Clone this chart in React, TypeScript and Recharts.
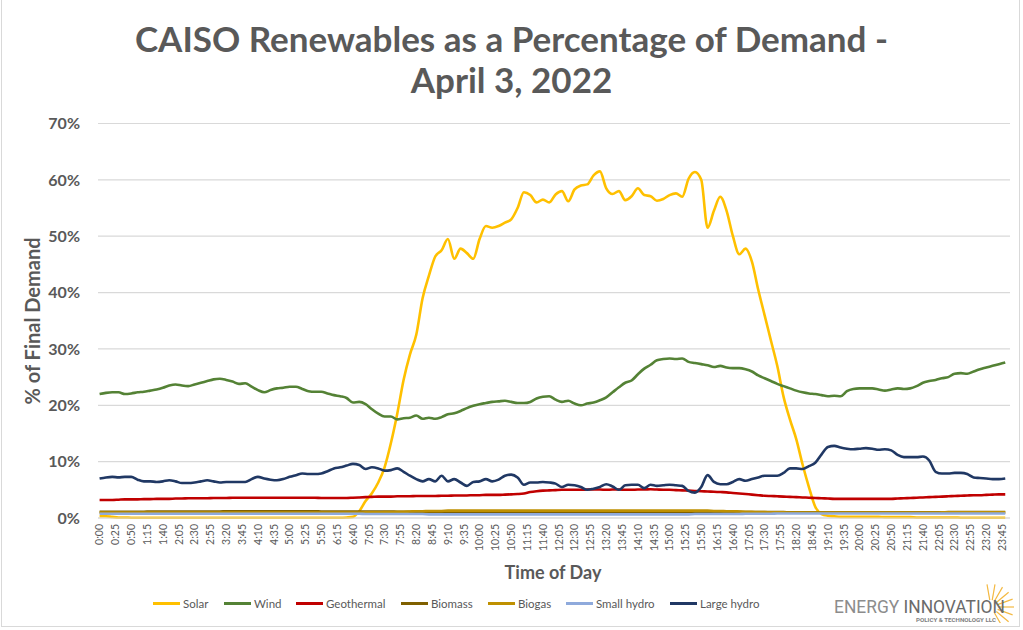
import { LineChart, Line, XAxis, YAxis, CartesianGrid } from 'recharts';

const FONT = "Lato, 'Open Sans', sans-serif";
const GREY = '#595959';

// 10-minute samples across the day (minutes after midnight)
const MINUTES = Array.from({ length: 144 }, (_, i) => i * 10);
// axis labels every 25 minutes like the source sheet
const X_TICKS = Array.from({ length: 58 }, (_, i) => i * 25);
const Y_TICKS = [0, 10, 20, 30, 40, 50, 60, 70];

const solar = [
  0.3, 0.3, 0.2, 0.1, 0.1, 0.05, 0.05, 0.05, 0.05, 0.05,
  0.05, 0.05, 0.05, 0.05, 0.05, 0.05, 0.05, 0.05, 0.05, 0.05,
  0.05, 0.05, 0.05, 0.05, 0.05, 0.05, 0.05, 0.05, 0.05, 0.05,
  0.05, 0.05, 0.05, 0.05, 0.05, 0.05, 0.05, 0.05, 0.05, 0.1,
  0.2, 1.2, 3.0, 4.4, 6.3, 9.0, 13.3, 18.5, 24.5, 29.0,
  32.5, 39.0, 43.0, 46.4, 47.5, 49.5, 46.0, 47.8, 47.0, 46.0,
  49.5, 51.8, 51.5, 51.8, 52.4, 53.0, 55.0, 57.8, 57.3, 56.0,
  56.5, 56.0, 57.4, 58.0, 56.2, 58.3, 59.0, 59.2, 60.8, 61.5,
  58.5, 57.5, 58.0, 56.4, 57.1, 58.5, 57.3, 57.1, 56.3, 56.6,
  57.3, 57.6, 57.0, 60.2, 61.4, 60.0, 51.5, 54.5, 57.0, 54.5,
  50.0, 46.8, 47.8, 45.5, 40.5, 36.0, 31.5, 27.0, 21.5, 17.5,
  14.0, 9.5, 5.5, 2.0, 0.7, 0.4, 0.3, 0.2, 0.2, 0.2,
  0.2, 0.2, 0.2, 0.2, 0.15, 0.15, 0.15, 0.15, 0.15, 0.1,
  0.1, 0.1, 0.1, 0.1, 0.1, 0.1, 0.05, 0.05, 0.05, 0.05,
  0.05, 0.05, 0.05, 0.05,
];

const wind = [
  22.0, 22.2, 22.3, 22.3, 22.0, 22.1, 22.3, 22.4, 22.6, 22.8,
  23.1, 23.5, 23.7, 23.5, 23.4, 23.7, 24.0, 24.3, 24.6, 24.7,
  24.5, 24.2, 23.8, 23.9, 23.3, 22.7, 22.3, 22.7, 23.0, 23.1,
  23.3, 23.3, 22.9, 22.5, 22.4, 22.4, 22.1, 21.8, 21.6, 21.3,
  20.5, 20.6, 20.2, 19.3, 18.5, 18.0, 18.0, 17.5, 17.7, 17.8,
  18.2, 17.6, 17.8, 17.6, 17.9, 18.4, 18.6, 19.0, 19.5, 19.9,
  20.2, 20.4, 20.6, 20.7, 20.8, 20.6, 20.4, 20.4, 20.6, 21.2,
  21.5, 21.6, 21.0, 20.6, 20.8, 20.3, 20.0, 20.3, 20.5, 20.9,
  21.4, 22.3, 23.2, 24.0, 24.4, 25.5, 26.5, 27.2, 28.0, 28.2,
  28.3, 28.2, 28.3, 27.7, 27.5, 27.3, 27.1, 26.8, 27.0, 26.7,
  26.6, 26.6, 26.4, 26.0, 25.3, 24.8, 24.3, 23.8, 23.4, 23.0,
  22.6, 22.3, 22.1, 22.0, 21.8, 21.6, 21.7, 21.6, 22.5, 22.9,
  23.0, 23.0, 23.0, 22.8, 22.6, 22.8, 23.0, 22.9, 23.0, 23.4,
  24.0, 24.3, 24.5, 24.8, 25.0, 25.6, 25.7, 25.6, 26.0, 26.4,
  26.7, 27.0, 27.3, 27.6,
];

const geothermal = [
  3.2, 3.2, 3.2, 3.25, 3.3, 3.3, 3.3, 3.35, 3.35, 3.4,
  3.4, 3.4, 3.45, 3.45, 3.5, 3.5, 3.5, 3.5, 3.55, 3.55,
  3.55, 3.6, 3.6, 3.6, 3.6, 3.6, 3.6, 3.6, 3.6, 3.6,
  3.6, 3.6, 3.6, 3.6, 3.6, 3.55, 3.55, 3.55, 3.55, 3.55,
  3.6, 3.65, 3.7, 3.75, 3.8, 3.8, 3.8, 3.85, 3.85, 3.85,
  3.9, 3.9, 3.9, 3.9, 3.95, 3.95, 4.0, 4.0, 4.0, 4.05,
  4.05, 4.1, 4.1, 4.1, 4.15, 4.2, 4.25, 4.35, 4.6, 4.75,
  4.85, 4.9, 4.95, 5.0, 5.0, 5.0, 5.0, 5.05, 5.05, 5.05,
  5.0, 5.05, 5.05, 5.0, 5.0, 5.05, 5.05, 5.1, 5.05, 5.0,
  5.0, 4.95, 4.9, 4.85, 4.8, 4.75, 4.7, 4.65, 4.6, 4.55,
  4.45, 4.35, 4.25, 4.15, 4.05, 3.95, 3.9, 3.85, 3.8, 3.75,
  3.7, 3.65, 3.6, 3.55, 3.5, 3.45, 3.4, 3.4, 3.4, 3.4,
  3.4, 3.4, 3.4, 3.4, 3.4, 3.4, 3.45, 3.5, 3.55, 3.6,
  3.65, 3.7, 3.75, 3.8, 3.85, 3.9, 3.95, 4.0, 4.05, 4.05,
  4.1, 4.15, 4.2, 4.2,
];

const biomass = [
  1.1, 1.1, 1.1, 1.1, 1.1, 1.1, 1.1, 1.1, 1.15, 1.15,
  1.15, 1.15, 1.15, 1.15, 1.15, 1.15, 1.15, 1.15, 1.15, 1.15,
  1.2, 1.2, 1.2, 1.2, 1.2, 1.2, 1.2, 1.2, 1.2, 1.2,
  1.2, 1.2, 1.2, 1.2, 1.2, 1.15, 1.15, 1.15, 1.15, 1.15,
  1.15, 1.15, 1.15, 1.15, 1.15, 1.15, 1.15, 1.1, 1.1, 1.1,
  1.1, 1.1, 1.1, 1.1, 1.1, 1.1, 1.1, 1.1, 1.1, 1.1,
  1.1, 1.1, 1.1, 1.1, 1.1, 1.1, 1.1, 1.1, 1.1, 1.1,
  1.1, 1.1, 1.1, 1.1, 1.1, 1.1, 1.1, 1.1, 1.1, 1.1,
  1.1, 1.1, 1.1, 1.1, 1.1, 1.1, 1.1, 1.1, 1.1, 1.1,
  1.1, 1.1, 1.1, 1.1, 1.1, 1.1, 1.1, 1.1, 1.1, 1.1,
  1.1, 1.1, 1.05, 1.05, 1.05, 1.05, 1.05, 1.05, 1.05, 1.0,
  1.0, 1.0, 1.0, 1.0, 1.0, 1.0, 1.0, 1.0, 1.0, 1.0,
  1.0, 1.0, 1.0, 1.0, 1.0, 1.0, 1.0, 1.0, 1.0, 1.0,
  1.0, 1.0, 1.0, 1.0, 1.05, 1.05, 1.05, 1.05, 1.05, 1.05,
  1.05, 1.05, 1.05, 1.05,
];

const biogas = [
  0.95, 0.95, 0.95, 0.95, 0.95, 0.95, 0.95, 0.95, 0.95, 0.95,
  0.95, 0.95, 0.95, 0.95, 0.95, 0.95, 0.95, 0.95, 0.95, 0.95,
  0.95, 0.95, 0.95, 0.95, 0.95, 0.95, 0.95, 0.95, 0.95, 0.95,
  0.95, 0.95, 0.95, 0.95, 0.95, 0.95, 0.95, 0.95, 0.95, 0.95,
  0.95, 0.95, 1.0, 1.0, 1.0, 1.05, 1.05, 1.1, 1.1, 1.15,
  1.2, 1.2, 1.25, 1.25, 1.25, 1.3, 1.3, 1.3, 1.3, 1.3,
  1.3, 1.3, 1.3, 1.3, 1.3, 1.3, 1.3, 1.3, 1.3, 1.3,
  1.3, 1.3, 1.3, 1.3, 1.3, 1.3, 1.3, 1.3, 1.3, 1.3,
  1.3, 1.3, 1.3, 1.3, 1.3, 1.3, 1.3, 1.3, 1.3, 1.3,
  1.3, 1.3, 1.3, 1.3, 1.3, 1.3, 1.3, 1.25, 1.25, 1.2,
  1.2, 1.15, 1.1, 1.1, 1.05, 1.05, 1.0, 1.0, 1.0, 0.95,
  0.95, 0.95, 0.95, 0.95, 0.95, 0.95, 0.95, 0.95, 0.95, 0.95,
  0.95, 0.95, 0.95, 0.95, 0.95, 0.95, 0.95, 0.95, 0.95, 0.95,
  0.95, 0.95, 0.95, 1.0, 1.0, 1.0, 1.0, 1.0, 1.0, 1.0,
  1.0, 1.0, 1.0, 1.0,
];

const smallHydro = [
  0.75, 0.75, 0.75, 0.75, 0.75, 0.75, 0.75, 0.75, 0.75, 0.75,
  0.75, 0.75, 0.75, 0.75, 0.75, 0.75, 0.75, 0.75, 0.75, 0.75,
  0.75, 0.75, 0.75, 0.75, 0.75, 0.75, 0.75, 0.75, 0.75, 0.75,
  0.75, 0.75, 0.75, 0.75, 0.75, 0.75, 0.75, 0.75, 0.75, 0.75,
  0.75, 0.75, 0.7, 0.7, 0.7, 0.7, 0.7, 0.7, 0.7, 0.7,
  0.7, 0.7, 0.65, 0.65, 0.65, 0.65, 0.65, 0.65, 0.65, 0.65,
  0.65, 0.65, 0.65, 0.65, 0.65, 0.65, 0.65, 0.65, 0.65, 0.65,
  0.65, 0.65, 0.65, 0.65, 0.65, 0.65, 0.65, 0.65, 0.65, 0.65,
  0.65, 0.65, 0.65, 0.65, 0.65, 0.65, 0.65, 0.65, 0.65, 0.65,
  0.65, 0.65, 0.65, 0.65, 0.7, 0.7, 0.7, 0.7, 0.7, 0.7,
  0.7, 0.7, 0.75, 0.75, 0.75, 0.75, 0.75, 0.8, 0.8, 0.8,
  0.8, 0.8, 0.8, 0.8, 0.8, 0.8, 0.8, 0.8, 0.8, 0.8,
  0.8, 0.8, 0.8, 0.8, 0.8, 0.8, 0.8, 0.8, 0.8, 0.8,
  0.8, 0.8, 0.8, 0.8, 0.8, 0.8, 0.8, 0.8, 0.8, 0.8,
  0.8, 0.8, 0.8, 0.8,
];

const largeHydro = [
  7.0, 7.2, 7.3, 7.2, 7.3, 7.3, 6.8, 6.5, 6.5, 6.4,
  6.5, 6.7, 6.5, 6.2, 6.2, 6.3, 6.5, 6.7, 6.5, 6.3,
  6.4, 6.4, 6.4, 6.4, 6.9, 7.3, 7.0, 6.8, 6.7, 6.9,
  7.3, 7.6, 7.9, 7.8, 7.8, 7.9, 8.3, 8.8, 9.0, 9.3,
  9.6, 9.4, 8.7, 9.0, 8.8, 8.4, 8.5, 8.8, 8.2, 7.5,
  6.9, 6.5, 6.9, 6.5, 7.5, 6.5, 6.9, 6.3, 5.7, 6.4,
  6.5, 6.9, 6.5, 6.8, 7.5, 7.7, 7.2, 5.9, 6.3, 6.3,
  6.4, 6.3, 6.1, 5.5, 5.9, 5.8, 5.5, 5.0, 5.2, 5.5,
  6.0, 5.6, 5.0, 5.8, 5.9, 5.9, 5.3, 5.9, 5.7, 5.8,
  5.9, 5.8, 5.7, 4.8, 4.5, 5.5, 7.6, 6.4, 6.0, 6.0,
  6.4, 6.9, 6.6, 6.9, 7.2, 7.5, 7.5, 7.5, 8.0, 8.8,
  8.8, 8.7, 9.2, 9.8, 11.3, 12.6, 12.8, 12.5, 12.3, 12.2,
  12.3, 12.4, 12.3, 12.1, 12.2, 12.0, 11.2, 10.8, 10.8, 10.8,
  10.9, 10.2, 8.2, 7.9, 7.9, 8.0, 8.0, 7.8, 7.2, 7.1,
  7.0, 6.9, 6.9, 7.0,
];

const SERIES = [
  { key: 'solar', name: 'Solar', color: '#FFC000', values: solar },
  { key: 'wind', name: 'Wind', color: '#548235', values: wind },
  { key: 'geothermal', name: 'Geothermal', color: '#C00000', values: geothermal },
  { key: 'biomass', name: 'Biomass', color: '#7F6000', values: biomass },
  { key: 'biogas', name: 'Biogas', color: '#BF9000', values: biogas },
  { key: 'smallHydro', name: 'Small hydro', color: '#8FAADC', values: smallHydro },
  { key: 'largeHydro', name: 'Large hydro', color: '#203864', values: largeHydro },
];

// where each legend entry starts
const LEGEND_LEFT = [153, 224, 296, 401, 488, 566, 670];

const chartData = MINUTES.map((m, i) => {
  const row: Record<string, number> = { minute: m };
  SERIES.forEach((s) => {
    row[s.key] = s.values[i];
  });
  return row;
});

function fmtTime(m: number): string {
  return Math.floor(m / 60) + ':' + String(m % 60).padStart(2, '0');
}

// eslint-disable-next-line @typescript-eslint/no-explicit-any
function TimeTick({ x, y, payload }: any) {
  return (
    <text
      x={0}
      y={0}
      transform={`translate(${x},${y}) rotate(-90)`}
      textAnchor="end"
      dy="0.36em"
      fontSize={10.5}
      fontFamily={FONT}
      fill={GREY}
    >
      {fmtTime(payload.value)}
    </text>
  );
}

// small company mark in the bottom-right corner
function Logo() {
  const rays = [-60, -40, -20, 0, 20, 40, 60, 80, 100];
  return (
    <svg width={200} height={42} style={{ position: 'absolute', left: 823, top: 581 }}>
      {rays.map((a) => {
        const r = (a * Math.PI) / 180;
        return (
          <line
            key={a}
            x1={168 + Math.cos(r) * 7}
            y1={26 - Math.sin(r) * 7}
            x2={168 + Math.cos(r) * 23}
            y2={26 - Math.sin(r) * 23}
            stroke="#F4B942"
            strokeWidth={1.2}
          />
        );
      })}
      <text
        x={11}
        y={32}
        textLength={171}
        lengthAdjust="spacingAndGlyphs"
        fontFamily="Roboto, 'Open Sans', sans-serif"
        fontSize={18}
        fill="#8c8c8c"
      >
        ENERGY <tspan fill="#6a6a6a">INNOVATION</tspan>
      </text>
      <text
        x={93}
        y={41}
        textLength={80}
        lengthAdjust="spacingAndGlyphs"
        fontFamily="Roboto, sans-serif"
        fontSize={5}
        fontWeight={700}
        fill="#7f7f7f"
      >
        POLICY &amp; TECHNOLOGY LLC
      </text>
    </svg>
  );
}

export default function App() {
  return (
    <div
      style={{
        position: 'absolute',
        left: 0,
        top: 0,
        width: 1023,
        height: 630,
        background: '#fff',
        fontFamily: FONT,
        overflow: 'hidden',
      }}
    >
      {/* frame */}
      <div
        style={{
          position: 'absolute',
          left: 1,
          top: -2,
          width: 1019,
          height: 629,
          border: '1px solid #d9d9d9',
          boxSizing: 'border-box',
        }}
      />

      {/* Title */}
      <div
        style={{
          position: 'absolute',
          left: 0,
          top: 18,
          width: 1023,
          textAlign: 'center',
          fontSize: 35,
          fontWeight: 700,
          color: GREY,
          lineHeight: '41px',
        }}
      >
        CAISO Renewables as a Percentage of Demand -
        <br />
        April 3, 2022
      </div>

      <LineChart
        width={1023}
        height={630}
        data={chartData}
        margin={{ top: 123.5, right: 13, bottom: 72, left: 20 }}
        style={{ position: 'absolute', left: 0, top: 0 }}
      >
        <CartesianGrid vertical={false} stroke="#d9d9d9" strokeWidth={1.2} />
        <XAxis
          dataKey="minute"
          type="number"
          domain={[-2.5, 1437.5]}
          ticks={X_TICKS}
          interval={0}
          tick={<TimeTick />}
          tickLine={false}
          tickSize={0}
          tickMargin={6}
          axisLine={{ stroke: '#d9d9d9' }}
          height={40}
        />
        <YAxis
          type="number"
          domain={[0, 70]}
          ticks={Y_TICKS}
          tickFormatter={(v: number) => v + '%'}
          tick={{ fontSize: 16, fontWeight: 700, fill: GREY, fontFamily: FONT }}
          axisLine={false}
          tickLine={false}
          tickSize={0}
          tickMargin={18}
          width={78}
        />
        {SERIES.map((s) => (
          <Line
            key={s.key}
            type="monotone"
            dataKey={s.key}
            name={s.name}
            stroke={s.color}
            strokeWidth={2.6}
            dot={false}
            isAnimationActive={false}
          />
        ))}
      </LineChart>

      {/* Axis titles */}
      <div
        style={{
          position: 'absolute',
          left: 32,
          top: 321,
          transform: 'translate(-50%, -50%) rotate(-90deg)',
          whiteSpace: 'nowrap',
          fontSize: 20,
          fontWeight: 700,
          color: GREY,
        }}
      >
        % of Final Demand
      </div>
      <div
        style={{
          position: 'absolute',
          left: 553,
          top: 572,
          transform: 'translate(-50%, -50%)',
          whiteSpace: 'nowrap',
          fontSize: 18,
          fontWeight: 700,
          color: GREY,
        }}
      >
        Time of Day
      </div>

      {/* Legend */}
      {SERIES.map((s, i) => (
        <span
          key={s.key}
          style={{
            position: 'absolute',
            left: LEGEND_LEFT[i],
            top: 597,
            display: 'flex',
            alignItems: 'center',
            gap: 3,
            fontSize: 11.5,
            color: GREY,
            whiteSpace: 'nowrap',
          }}
        >
          <span style={{ display: 'inline-block', width: 27, height: 3, background: s.color }} />
          {s.name}
        </span>
      ))}

      <Logo />
    </div>
  );
}
